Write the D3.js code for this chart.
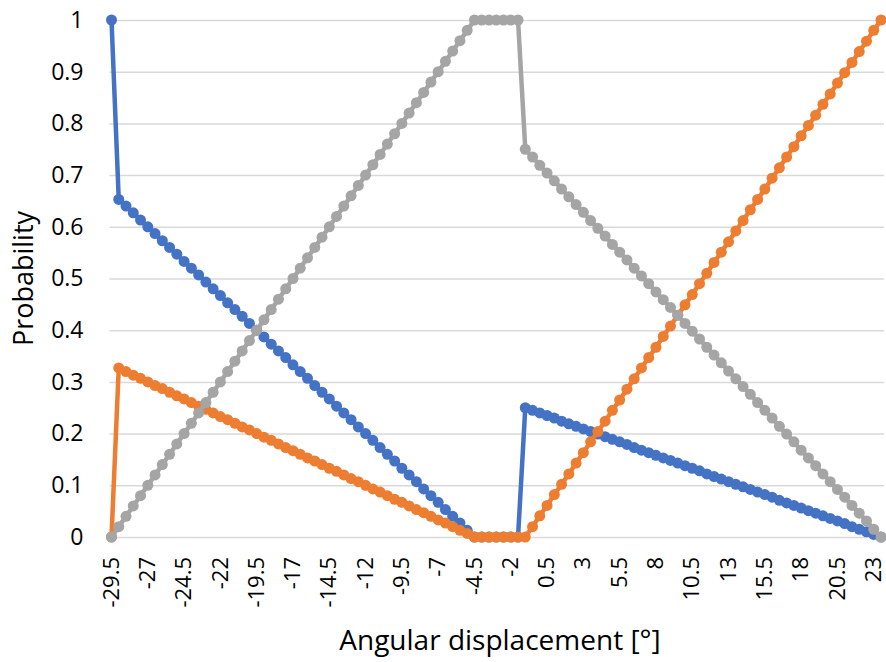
<!DOCTYPE html>
<html>
<head>
<meta charset="utf-8">
<script src="https://cdn.jsdelivr.net/npm/d3@7"></script>
<style>
  html, body { margin: 0; padding: 0; background: #fff; }
  svg { display: block; }
  text { font-family: "Open Sans", sans-serif; fill: #000; }
</style>
</head>
<body>
<svg id="chart" width="886" height="662"></svg>
<script>
// Angular displacement categories (degrees)
const categories = [
  -29.5,-29,-28.5,-28,-27.5,-27,-26.5,-26,-25.5,-25,-24.5,-24,-23.5,-23,-22.5,-22,-21.5,-21,-20.5,-20,
  -19.5,-19,-18.5,-18,-17.5,-17,-16.5,-16,-15.5,-15,-14.5,-14,-13.5,-13,-12.5,-12,-11.5,-11,-10.5,-10,
  -9.5,-9,-8.5,-8,-7.5,-7,-6.5,-6,-5.5,-5,-4.5,-4,-3.5,-3,-2.5,-2,-1.5,-1,-0.5,0,
  0.5,1,1.5,2,2.5,3,3.5,4,4.5,5,5.5,6,6.5,7,7.5,8,8.5,9,9.5,10,
  10.5,11,11.5,12,12.5,13,13.5,14,14.5,15,15.5,16,16.5,17,17.5,18,18.5,19,19.5,20,
  20.5,21,21.5,22,22.5,23,23.5
];

const tickLabels = ["-29.5","-27","-24.5","-22","-19.5","-17","-14.5","-12","-9.5","-7",
  "-4.5","-2","0.5","3","5.5","8","10.5","13","15.5","18","20.5","23"];

const yTicks = [0,0.1,0.2,0.3,0.4,0.5,0.6,0.7,0.8,0.9,1];

const blueValues = [
  1,0.653,0.640,0.627,0.613,0.600,0.587,0.573,0.560,0.547,0.533,0.520,0.507,0.493,0.480,0.467,0.453,0.440,0.427,0.413,
  0.400,0.387,0.373,0.360,0.347,0.333,0.320,0.307,0.293,0.280,0.267,0.253,0.240,0.227,0.213,0.200,0.187,0.173,0.160,0.147,
  0.133,0.120,0.107,0.093,0.080,0.067,0.053,0.040,0.027,0.013,0,
  0,0,0,0,0,0,
  0.250,0.245,0.240,0.235,0.230,0.224,0.219,0.214,0.209,0.204,0.199,0.194,0.189,0.184,0.179,0.173,0.168,0.163,0.158,0.153,
  0.148,0.143,0.138,0.133,0.128,0.122,0.117,0.112,0.107,0.102,0.097,0.092,0.087,0.082,0.077,0.071,0.066,0.061,0.056,0.051,
  0.046,0.041,0.036,0.031,0.026,0.020,0.015,0.010,0.005,0
];

const orangeValues = [
  0,0.327,0.320,0.313,0.307,0.300,0.293,0.287,0.280,0.273,0.267,0.260,0.253,0.247,0.240,0.233,0.227,0.220,0.213,0.207,
  0.200,0.193,0.187,0.180,0.173,0.167,0.160,0.153,0.147,0.140,0.133,0.127,0.120,0.113,0.107,0.100,0.093,0.087,0.080,0.073,
  0.067,0.060,0.053,0.047,0.040,0.033,0.027,0.020,0.013,0.007,0,
  0,0,0,0,0,0,
  0,0.020,0.041,0.061,0.082,0.102,0.122,0.143,0.163,0.184,0.204,0.224,0.245,0.265,0.286,0.306,0.327,0.347,0.367,0.388,
  0.408,0.429,0.449,0.469,0.490,0.510,0.531,0.551,0.571,0.592,0.612,0.633,0.653,0.673,0.694,0.714,0.735,0.755,0.776,0.796,
  0.816,0.837,0.857,0.878,0.898,0.918,0.939,0.959,0.980,1
];

const grayValues = [
  0,0.02,0.04,0.06,0.08,0.10,0.12,0.14,0.16,0.18,0.20,0.22,0.24,0.26,0.28,0.30,0.32,0.34,0.36,0.38,
  0.40,0.42,0.44,0.46,0.48,0.50,0.52,0.54,0.56,0.58,0.60,0.62,0.64,0.66,0.68,0.70,0.72,0.74,0.76,0.78,
  0.80,0.82,0.84,0.86,0.88,0.90,0.92,0.94,0.96,0.98,1,
  1,1,1,1,1,1,
  0.750,0.735,0.719,0.704,0.689,0.673,0.658,0.643,0.628,0.612,0.597,0.582,0.566,0.551,0.536,0.520,0.505,0.490,0.474,0.459,
  0.444,0.429,0.413,0.398,0.383,0.367,0.352,0.337,0.321,0.306,0.291,0.276,0.260,0.245,0.230,0.214,0.199,0.184,0.168,0.153,
  0.138,0.122,0.107,0.092,0.077,0.061,0.046,0.031,0.015,0
];

const seriesNames = ["Series1","Series2","Series3"];
const seriesColors = ["#4472C4","#ED7D31","#A5A5A5"];

const svg = d3.select("#chart");
const plot = { left: 111.5, right: 881, top: 20, bottom: 537 };

const x = d3.scalePoint().domain(categories).range([plot.left, plot.right]);
const y = d3.scaleLinear().domain([0, 1]).range([plot.bottom, plot.top]);

// gridlines + y tick labels
const yAxis = d3.axisLeft(y).tickValues(yTicks).tickFormat(d3.format("~g"))
  .tickSize(-(886 - plot.left)).tickPadding(26);
const gy = svg.append("g").attr("transform", `translate(${plot.left - 2},0)`).call(yAxis);
gy.select(".domain").remove();
gy.selectAll(".tick line").attr("stroke", "#d9d9d9").attr("stroke-width", 1.5);
gy.selectAll(".tick text").attr("font-size", 23).attr("fill", "#000").attr("font-family", "Open Sans");

// x axis (category labels every 5th)
const labelSet = new Set(tickLabels);
const xAxis = d3.axisBottom(x)
  .tickValues(categories.filter(c => labelSet.has(String(c))))
  .tickFormat(d => String(d)).tickSize(0);
const gx = svg.append("g").attr("transform", `translate(0,${plot.bottom})`).call(xAxis);
gx.select(".domain").remove();
gx.selectAll(".tick text")
  .attr("font-size", 22).attr("font-family", "Open Sans").attr("fill", "#000")
  .attr("transform", "rotate(-90)")
  .attr("text-anchor", "end")
  .attr("x", -20).attr("y", 0).attr("dy", "0.3em");

// series
const allSeries = [blueValues, orangeValues, grayValues];
const line = d3.line().x((d, i) => x(categories[i])).y(d => y(d));
allSeries.forEach((vals, s) => {
  const g = svg.append("g").attr("class", "series-" + seriesNames[s]);
  g.append("path").datum(vals).attr("d", line)
    .attr("fill", "none").attr("stroke", seriesColors[s]).attr("stroke-width", 4.5)
    .attr("stroke-linejoin", "round");
  g.selectAll("circle").data(vals).join("circle")
    .attr("cx", (d, i) => x(categories[i])).attr("cy", d => y(d)).attr("r", 5.5)
    .attr("fill", seriesColors[s]);
});

// axis titles
svg.append("text").attr("x", 500).attr("y", 650).attr("text-anchor", "middle")
  .attr("font-size", 28).text("Angular displacement [°]");
svg.append("text").attr("transform", `translate(33,${(plot.top + plot.bottom) / 2}) rotate(-90)`)
  .attr("text-anchor", "middle").attr("font-size", 27).text("Probability");
</script>
</body>
</html>
